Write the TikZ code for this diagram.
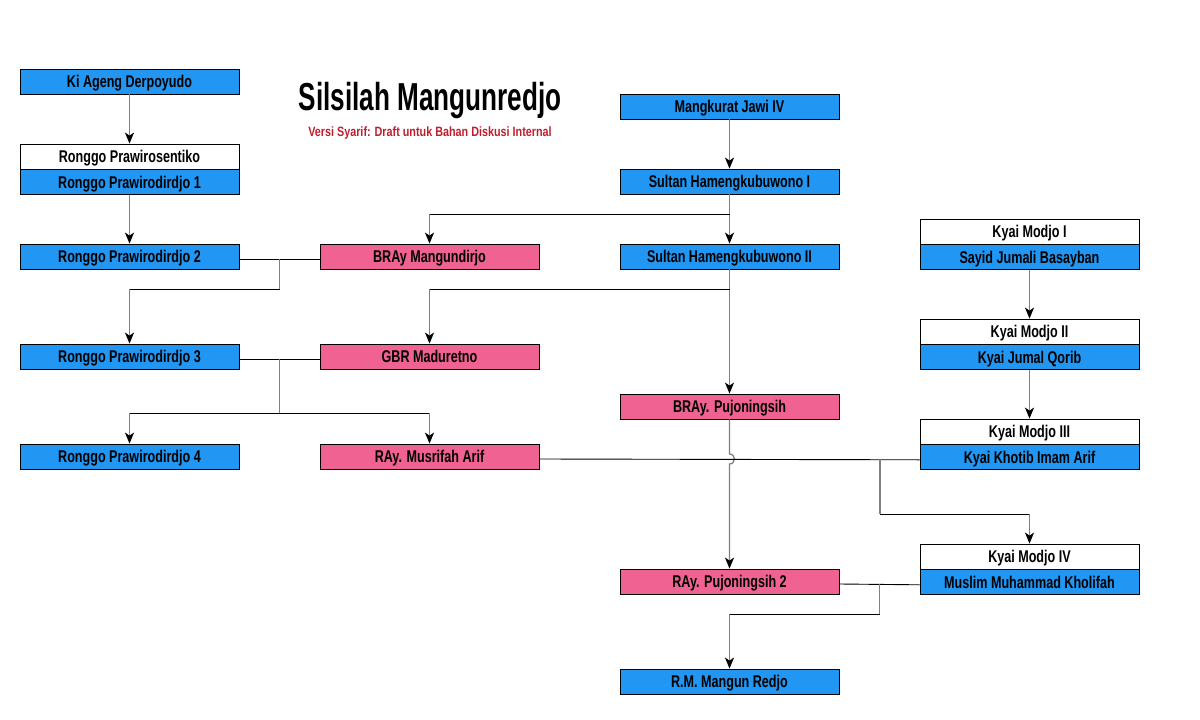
\documentclass[tikz,border=0pt]{standalone}
\usepackage{fontspec}
\setmainfont[FakeStretch=0.74]{Liberation Sans}
\newfontfamily\judulfont[FakeStretch=0.67]{Liberation Sans}
\newfontfamily\catatanfont[FakeStretch=0.8]{Liberation Sans}
\usetikzlibrary{positioning,arrows.meta}

\definecolor{biru}{RGB}{33,150,243}
\definecolor{merah}{RGB}{240,98,146}
\definecolor{merahtua}{RGB}{190,30,45}

\tikzset{
  orang/.style={draw, line width=0.8pt, minimum width=219pt, minimum height=25pt,
    inner sep=0pt, text height=12pt, text depth=0pt, font=\bfseries\fontsize{17}{18}\selectfont},
  pria/.style={orang, fill=biru},
  wanita/.style={orang, fill=merah},
  gelar/.style={orang, fill=white},
  turun/.style={draw=gray, line width=1.3pt, -{Stealth[black, length=11pt, width=9pt, inset=3pt]}},
  tegak/.style={draw=gray, line width=1.3pt},
  datar/.style={draw=black, line width=0.9pt},
  nikah/.style={yshift=-2.5pt}
}

\begin{document}
\begin{tikzpicture}[x=1pt, y=-1pt]
  \useasboundingbox (0,0) rectangle (1200,720);

  % judul
  \node (judul) at (430,101) {\judulfont\bfseries\fontsize{39}{40}\selectfont Silsilah Mangunredjo};
  \node (catatan) at (430,133) {\catatanfont\bfseries\fontsize{13.5}{15}\selectfont\color{merahtua}Versi Syarif: Draft untuk Bahan Diskusi Internal};

  % kolom kiri
  \node [pria] (derpoyudo) at (129.5,81.5) {Ki Ageng Derpoyudo};
  \node [gelar] (sentiko) at (129.5,156.5) {Ronggo Prawirosentiko};
  \node [pria, below=0pt of sentiko] (rp1) {Ronggo Prawirodirdjo 1};
  \node [pria] (rp2) at (129.5,256.5) {Ronggo Prawirodirdjo 2};
  \node [pria] (rp3) at (129.5,356.5) {Ronggo Prawirodirdjo 3};
  \node [pria] (rp4) at (129.5,456.5) {Ronggo Prawirodirdjo 4};

  % istri
  \node [wanita] (mangundirjo) at (429.5,256.5) {BRAy Mangundirjo};
  \node [wanita] (maduretno) at (429.5,356.5) {GBR Maduretno};
  \node [wanita] (musrifah) at (429.5,456.5) {RAy. Musrifah Arif};

  % keraton
  \node [pria] (mangkurat) at (729.5,106.5) {Mangkurat Jawi IV};
  \node [pria] (hb1) at (729.5,181.5) {Sultan Hamengkubuwono I};
  \node [pria] (hb2) at (729.5,256.5) {Sultan Hamengkubuwono II};
  \node [wanita] (pujo) at (729.5,406.5) {BRAy. Pujoningsih};
  \node [wanita] (pujo2) at (729.5,581.5) {RAy. Pujoningsih 2};
  \node [pria] (redjo) at (729.5,681.5) {R.M. Mangun Redjo};

  % kyai modjo
  \node [gelar] (modjo1) at (1029.5,231.5) {Kyai Modjo I};
  \node [pria, below=0pt of modjo1] (sayid) {Sayid Jumali Basayban};
  \node [gelar] (modjo2) at (1029.5,331.5) {Kyai Modjo II};
  \node [pria, below=0pt of modjo2] (qorib) {Kyai Jumal Qorib};
  \node [gelar] (modjo3) at (1029.5,431.5) {Kyai Modjo III};
  \node [pria, below=0pt of modjo3] (khotib) {Kyai Khotib Imam Arif};
  \node [gelar] (modjo4) at (1029.5,556.5) {Kyai Modjo IV};
  \node [pria, below=0pt of modjo4] (kholifah) {Muslim Muhammad Kholifah};

  % garis keturunan langsung
  \draw [turun] (derpoyudo) -- (sentiko);
  \draw [turun] (rp1) -- (rp2);
  \draw [turun] (mangkurat) -- (hb1);
  \draw [turun] (hb1) -- (hb2);
  \draw [turun] (hb2) -- (pujo);
  \draw [turun] (sayid) -- (modjo2);
  \draw [turun] (qorib) -- (modjo3);

  % cabang dari Hamengkubuwono I dan II
  \coordinate (c1) at (729.5,214);
  \draw [datar] (c1) -- (c1 -| mangundirjo);
  \draw [turun] (c1 -| mangundirjo) -- (mangundirjo);
  \coordinate (c2) at (729.5,289);
  \draw [datar] (c2) -- (c2 -| maduretno);
  \draw [turun] (c2 -| maduretno) -- (maduretno);

  % pernikahan Ronggo 2
  \draw [datar] ([nikah]rp2.east) -- ([nikah]mangundirjo.west) coordinate [midway] (n2);
  \draw [tegak] (n2) -- (n2 |- 0,289) coordinate (a2);
  \draw [datar] (a2) -- (a2 -| rp3);
  \draw [turun] (a2 -| rp3) -- (rp3);

  % pernikahan Ronggo 3
  \draw [datar] ([nikah]rp3.east) -- ([nikah]maduretno.west) coordinate [midway] (n3);
  \draw [tegak] (n3) -- (n3 |- 0,413) coordinate (a3);
  \draw [datar] (a3 -| rp4) -- (a3 -| musrifah);
  \draw [turun] (a3 -| rp4) -- (rp4);
  \draw [turun] (a3 -| musrifah) -- (musrifah);

  % Pujoningsih, melompati garis
  \draw [turun] (pujo) -- (729.5,454) .. controls (736,454) and (736,464) .. (729.5,464) -- (pujo2);

  % pernikahan Musrifah
  \draw [datar] ([nikah]musrifah.east) -- ([nikah]khotib.west);
  \coordinate (n4) at (880,459);
  \draw [tegak] (n4) -- (n4 |- 0,514) coordinate (a4);
  \draw [datar] (a4) -- (a4 -| modjo4);
  \draw [turun] (a4 -| modjo4) -- (modjo4);

  % pernikahan Pujoningsih 2
  \draw [datar] ([nikah]pujo2.east) -- ([nikah]kholifah.west) coordinate [midway] (n5);
  \draw [tegak] (n5) -- (n5 |- 0,614) coordinate (a5);
  \draw [datar] (a5) -- (a5 -| redjo);
  \draw [turun] (a5 -| redjo) -- (redjo);
\end{tikzpicture}
\end{document}
